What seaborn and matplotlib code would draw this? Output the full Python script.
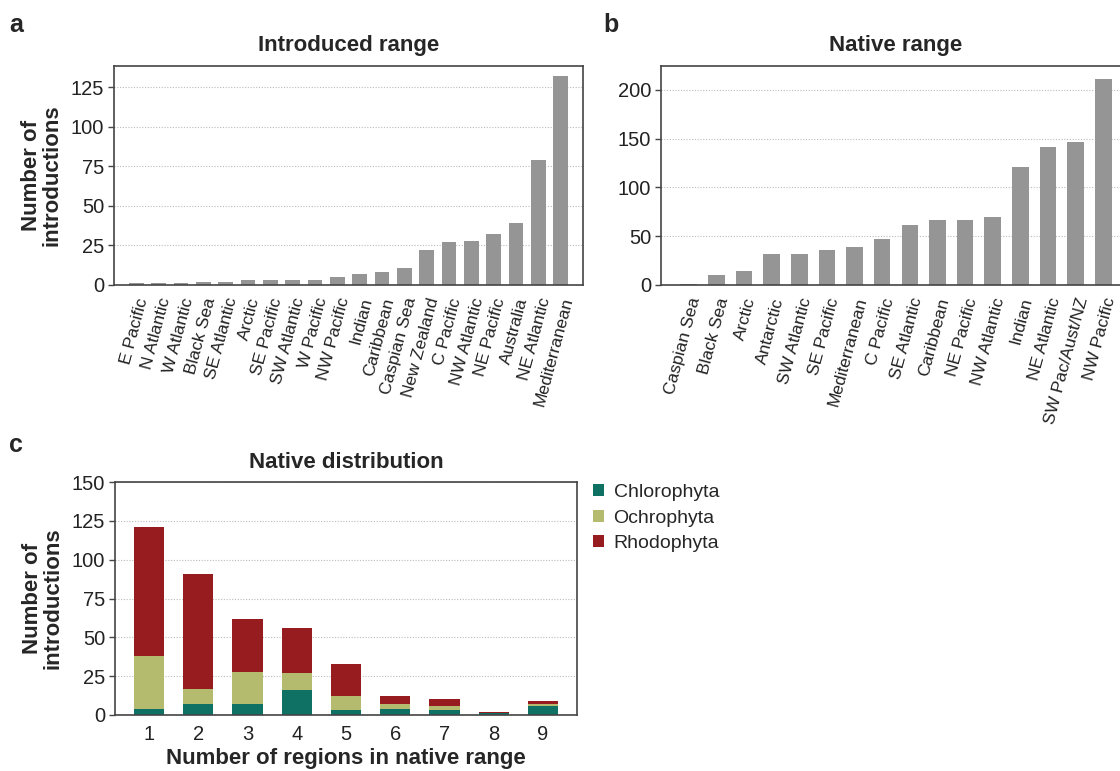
import matplotlib
matplotlib.use("Agg")
import matplotlib.pyplot as plt
from matplotlib.patches import Patch
import seaborn as sns
import pandas as pd
import numpy as np

# ---- data ----
intro_regions = ["E Pacific", "N Atlantic", "W Atlantic", "Black Sea", "SE Atlantic",
                 "Arctic", "SE Pacific", "SW Atlantic", "W Pacific", "NW Pacific",
                 "Indian", "Caribbean", "Caspian Sea", "New Zealand", "C Pacific",
                 "NW Atlantic", "NE Pacific", "Australia", "NE Atlantic", "Mediterranean"]
intro_counts = [1, 1, 1, 2, 2, 3, 3, 3, 3, 5, 7, 8, 11, 22, 27, 28, 32, 39, 79, 132]

native_regions = ["Caspian Sea", "Black Sea", "Arctic", "Antarctic", "SW Atlantic",
                  "SE Pacific", "Mediterranean", "C Pacific", "SE Atlantic", "Caribbean",
                  "NE Pacific", "NW Atlantic", "Indian", "NE Atlantic", "SW Pac/Aust/NZ",
                  "NW Pacific"]
native_counts = [1, 10, 14, 32, 32, 36, 39, 47, 61, 67, 67, 70, 121, 141, 147, 211]

n_regions = ["1", "2", "3", "4", "5", "6", "7", "8", "9"]
chlorophyta = [4, 7, 7, 16, 3, 4, 3, 1, 6]
ochrophyta = [34, 10, 21, 11, 9, 3, 3, 0, 1]
rhodophyta = [83, 74, 34, 29, 21, 5, 4, 1, 2]

groups = ["Chlorophyta", "Ochrophyta", "Rhodophyta"]
colors = {"Chlorophyta": "#0e7163", "Ochrophyta": "#b5bb6e", "Rhodophyta": "#961c20"}
bar_gray = "#959595"

sns.set_theme(style="white")
plt.rcParams["font.family"] = ["Liberation Sans", "DejaVu Sans"]
plt.rcParams["axes.edgecolor"] = "#444444"
plt.rcParams["axes.linewidth"] = 1.2

W, H = 1120, 771
fig = plt.figure(figsize=(W / 100, H / 100), dpi=100)

TICK_FS = 14.5
ROT_FS = 12.5
TITLE_FS = 16
LABEL_FS = 16


def px_axes(left, top, right, bottom):
    return fig.add_axes([left / W, 1 - bottom / H, (right - left) / W, (bottom - top) / H])


def style(ax, ymax, yticks):
    ax.set_ylim(0, ymax)
    ax.set_yticks(yticks)
    ax.yaxis.grid(True, linestyle=(0, (1, 1.5)), color="#bbbbbb", linewidth=0.8)
    ax.set_axisbelow(True)
    ax.tick_params(axis="y", which="major", left=True, length=4, width=1, color="#444444",
                   labelsize=TICK_FS, pad=3, labelcolor="#222222")
    ax.tick_params(axis="x", bottom=False, labelcolor="#222222")
    ax.set_xlabel("")
    ax.set_ylabel("")
    for s in ax.spines.values():
        s.set_visible(True)
        s.set_color("#444444")


bar_kw = dict(saturation=1, linewidth=0, edgecolor="none")

# ---- panel a ----
axA = px_axes(114, 66, 583, 285)
dfa = pd.DataFrame({"region": intro_regions, "count": intro_counts})
sns.barplot(data=dfa, x="region", y="count", order=intro_regions, color=bar_gray,
            width=0.66, ax=axA, **bar_kw)
style(axA, 138.5, [0, 25, 50, 75, 100, 125])
axA.set_xlim(-1, len(intro_regions))
axA.set_xticks(range(len(intro_regions)))
axA.set_xticklabels(intro_regions, rotation=75, ha="right", rotation_mode="anchor",
                    fontsize=ROT_FS)
axA.tick_params(axis="x", pad=2)
axA.set_title("Introduced range", fontsize=TITLE_FS, fontweight="bold", pad=11)
axA.set_ylabel("Number of\nintroductions", fontsize=LABEL_FS, fontweight="bold",
               labelpad=6, linespacing=1.0)

# ---- panel b ----
axB = px_axes(661, 66, 1131, 285)
dfb = pd.DataFrame({"region": native_regions, "count": native_counts})
sns.barplot(data=dfb, x="region", y="count", order=native_regions, color=bar_gray,
            width=0.6, ax=axB, **bar_kw)
style(axB, 224.5, [0, 50, 100, 150, 200])
axB.set_xlim(-1, len(native_regions))
axB.set_xticks(range(len(native_regions)))
axB.set_xticklabels(native_regions, rotation=75, ha="right", rotation_mode="anchor",
                    fontsize=ROT_FS)
axB.tick_params(axis="x", pad=2)
axB.set_title("Native range", fontsize=TITLE_FS, fontweight="bold", pad=11)

# ---- panel c ----
axC = px_axes(115, 482, 577, 715)
dfc = pd.DataFrame({"n": n_regions, "Chlorophyta": chlorophyta,
                    "Ochrophyta": ochrophyta, "Rhodophyta": rhodophyta})
dfc["lvl_R"] = dfc["Chlorophyta"] + dfc["Ochrophyta"] + dfc["Rhodophyta"]
dfc["lvl_O"] = dfc["Chlorophyta"] + dfc["Ochrophyta"]
dfc["lvl_C"] = dfc["Chlorophyta"]
for col, g in [("lvl_R", "Rhodophyta"), ("lvl_O", "Ochrophyta"), ("lvl_C", "Chlorophyta")]:
    sns.barplot(data=dfc, x="n", y=col, order=n_regions, color=colors[g], width=0.61,
                ax=axC, **bar_kw)
style(axC, 150, [0, 25, 50, 75, 100, 125, 150])
axC.set_xlim(-0.69, len(n_regions) - 1 + 0.69)
axC.tick_params(axis="x", labelsize=TICK_FS, pad=1)
axC.set_title("Native distribution", fontsize=TITLE_FS, fontweight="bold", pad=10)
axC.set_ylabel("Number of\nintroductions", fontsize=LABEL_FS, fontweight="bold",
               labelpad=6, linespacing=1.0)
axC.set_xlabel("Number of regions in native range", fontsize=LABEL_FS, fontweight="bold",
               labelpad=3)

handles = [Patch(facecolor=colors[g], edgecolor="none", label=g) for g in groups]
fig.legend(handles=handles, loc="upper left", bbox_to_anchor=(585 / W, 1 - 476 / H),
           frameon=False, fontsize=14, handlelength=0.57, handleheight=0.57,
           handletextpad=0.5, labelspacing=0.45, borderaxespad=0)

# ---- panel letters ----
fig.text(9 / W, 1 - 32 / H, "a", fontsize=18, fontweight="bold", va="baseline")
fig.text(603 / W, 1 - 32 / H, "b", fontsize=18, fontweight="bold", va="baseline")
fig.text(9 / W, 1 - 452 / H, "c", fontsize=18, fontweight="bold", va="baseline")

fig.savefig("out.png", dpi=100)
